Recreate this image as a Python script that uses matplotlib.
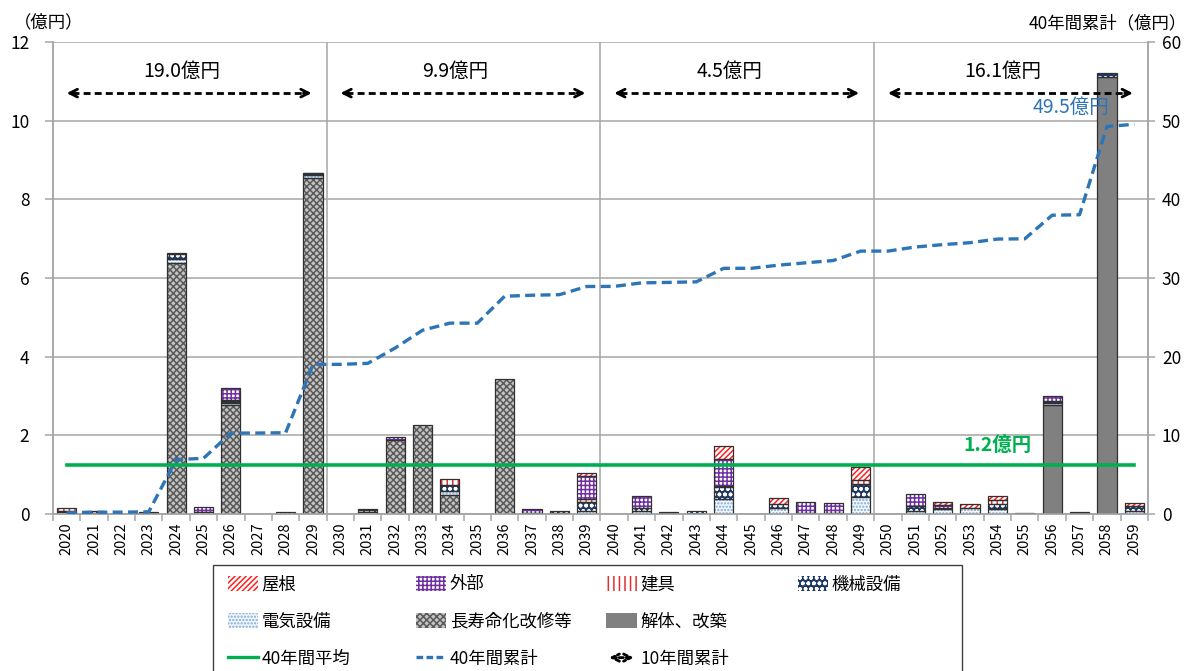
import matplotlib
matplotlib.use("Agg")
import matplotlib.pyplot as plt
import numpy as np
from matplotlib.patches import Patch, FancyArrowPatch, Rectangle
from matplotlib.lines import Line2D
from matplotlib.legend_handler import HandlerBase

plt.rcParams['font.family'] = ['Noto Sans CJK JP', 'DejaVu Sans']
plt.rcParams['hatch.linewidth'] = 1.1

# data (億円)
years = [str(y) for y in range(2020, 2060)]
yane = [0, 0, 0, 0, 0, 0, 0, 0, 0, 0,
        0, 0, 0, 0, 0, 0, 0, 0, 0, 0.08,
        0, 0, 0, 0, 0.32, 0, 0.15, 0, 0, 0.33,
        0, 0, 0.08, 0.11, 0.10, 0, 0, 0, 0, 0.08]
gaibu = [0, 0, 0, 0, 0.03, 0.13, 0.30, 0.01, 0.04, 0.02,
         0, 0.03, 0.08, 0, 0, 0, 0, 0.10, 0, 0.57,
         0, 0.29, 0, 0, 0.69, 0, 0, 0.27, 0.26, 0,
         0, 0.32, 0.07, 0, 0, 0, 0.14, 0, 0, 0]
tategu = [0.07, 0, 0, 0, 0, 0.04, 0.03, 0, 0, 0,
          0, 0, 0, 0, 0.16, 0, 0, 0, 0, 0.08,
          0, 0, 0, 0, 0.02, 0, 0, 0, 0, 0.12,
          0, 0, 0, 0, 0.10, 0, 0, 0, 0, 0]
kikai = [0.02, 0.05, 0, 0.03, 0.12, 0, 0.04, 0, 0, 0.03,
         0, 0.06, 0, 0, 0.16, 0, 0, 0, 0.04, 0.23,
         0, 0.08, 0.06, 0.07, 0.32, 0, 0.11, 0, 0, 0.31,
         0, 0.12, 0.03, 0, 0.14, 0, 0.04, 0.06, 0.10, 0.12]
denki = [0.06, 0.03, 0, 0.02, 0.10, 0, 0.05, 0, 0, 0.08,
         0.01, 0.04, 0, 0, 0.10, 0, 0, 0.03, 0.03, 0.08,
         0.01, 0.08, 0, 0, 0.37, 0, 0.14, 0.03, 0.03, 0.44,
         0, 0.08, 0.12, 0.14, 0.12, 0.03, 0.05, 0, 0, 0.08]
choju = [0, 0, 0, 0, 6.38, 0, 2.78, 0, 0, 8.55,
         0, 0, 1.87, 2.26, 0.48, 0, 3.42, 0, 0, 0,
         0, 0, 0, 0, 0, 0, 0, 0, 0, 0,
         0, 0, 0, 0, 0, 0, 0, 0, 0, 0]
kaitai = [0, 0, 0, 0, 0, 0, 0, 0, 0, 0,
          0, 0, 0, 0, 0, 0, 0, 0, 0, 0,
          0, 0, 0, 0, 0, 0, 0, 0, 0, 0,
          0, 0, 0, 0, 0, 0, 2.77, 0, 11.12, 0]
decade_labels = ["19.0億円", "9.9億円", "4.5億円", "16.1億円"]
avg_label = "1.2億円"
total_label = "49.5億円"

# series: label, values, face, hatch colour, hatch   (bottom -> top)
series = [
    ("解体、改築", kaitai, "#808080", "#808080", None),
    ("長寿命化改修等", choju, "#c4c4c4", "#5a5a5a", "xxxxx"),
    ("電気設備", denki, "#f2f8fd", "#7fa9d6", "....."),
    ("機械設備", kikai, "#1f3864", "#ffffff", "ooo"),
    ("建具", tategu, "#ffffff", "#e03030", "|||"),
    ("外部", gaibu, "#ffffff", "#7030a0", "++++"),
    ("屋根", yane, "#ffffff", "#ff2020", "//////"),
]


class ArrowHandler(HandlerBase):
    def create_artists(self, legend, orig, xd, yd, w, h, fontsize, trans):
        y = -yd + h / 2
        a = FancyArrowPatch((-xd, y), (-xd + w, y), arrowstyle="<->",
                            mutation_scale=13, lw=2, color="k",
                            linestyle=(0, (1.5, 1)), transform=trans)
        return [a]


fig = plt.figure(figsize=(11.9, 6.71), dpi=100)
ax = fig.add_axes([0.0445, 0.234, 0.9202, 0.7034])
ax2 = ax.twinx()

x = np.arange(len(years))
w = 0.7
bottom = np.zeros(len(years))
handles = {}
for lab, vals, fc, hc, h in series:
    v = np.array(vals)
    nz = v > 0
    ax.bar(x[nz], v[nz], w, bottom=bottom[nz], facecolor=fc, edgecolor=hc,
           hatch=h, linewidth=0, zorder=3)
    ax.bar(x[nz], v[nz], w, bottom=bottom[nz], fill=False,
           edgecolor="#303030", linewidth=0.9, zorder=4)
    handles[lab] = Patch(facecolor=fc, edgecolor=hc, hatch=h, linewidth=0)
    bottom = bottom + v

totals = bottom
cum = np.cumsum(totals)
avg = cum[-1] / len(years)

# 40年間平均
ax.plot([x[0], x[-1]], [avg, avg], color="#00b050", lw=2.6, zorder=5)
ax.text(34, avg + 0.5, avg_label, color="#00b050", fontsize=14,
        fontweight="bold", ha="center", va="center", zorder=6)

# 40年間累計
ax2.plot(x, cum, color="#2e75b6", lw=2.4, ls=(0, (3, 1.6)), zorder=5)
ax2.text(38.1, 10.33 * 5, total_label, color="#2e75b6", fontsize=14,
         ha="right", va="center", zorder=6)

# 10年間累計
for k, lab in enumerate(decade_labels):
    x0 = 10 * k
    x1 = x0 + 8.95
    ay = 10.7
    ax.plot([x0 + 0.2, x1 - 0.2], [ay, ay], color="k", lw=2, ls=(0, (2.5, 1.5)), zorder=6)
    for xa, xb in [(x0 + 0.3, x0), (x1 - 0.3, x1)]:
        ax.annotate("", xy=(xb, ay), xytext=(xa, ay),
                    arrowprops=dict(arrowstyle="->", lw=2, color="k",
                                    mutation_scale=14, shrinkA=0, shrinkB=0),
                    zorder=6)
    ax.text(x0 + 4.2, 11.25, lab, fontsize=14, ha="center", va="center", zorder=6)

# decade separators
for xs in [9.5, 19.5, 29.5]:
    ax.axvline(xs, color="#a6a6a6", lw=1.1, zorder=1)

ax.set_xlim(-0.5, len(years) - 0.5)
ax.set_ylim(0, 12)
ax2.set_ylim(0, 60)
ax.set_yticks(np.arange(0, 13, 2))
ax2.set_yticks(np.arange(0, 61, 10))
ax.yaxis.grid(True, color="#a6a6a6", lw=1.1, zorder=0)
ax.set_axisbelow(True)
ax.set_xticks(x)
ax.set_xticklabels(years, rotation=90, fontsize=10.5)
ax.set_xticks(np.arange(-0.5, len(years), 1), minor=True)
ax.tick_params(axis="x", which="major", length=0, pad=6)
ax.tick_params(axis="x", which="minor", length=5, color="#a6a6a6", width=1.1)
ax.tick_params(axis="y", labelsize=12.5, length=6, color="#a6a6a6", width=1.1, pad=11)
ax2.tick_params(axis="y", labelsize=12.5, length=5, color="#a6a6a6", width=1.1, pad=5)
for a in (ax, ax2):
    for s in a.spines.values():
        s.set_color("#a6a6a6")
        s.set_linewidth(1.1)
    a.spines["top"].set_visible(False)

fig.text(0.012, 0.967, "（億円）", fontsize=12.5, ha="left", va="center")
fig.text(0.997, 0.965, "40年間累計（億円）", fontsize=12.5, ha="right", va="center")

# legend: one legend per column inside a single frame
arrow = Line2D([], [])
columns = [
    [(handles["屋根"], "屋根"), (handles["電気設備"], "電気設備"),
     (Line2D([], [], color="#00b050", lw=2.4), "40年間平均")],
    [(handles["外部"], "外部"), (handles["長寿命化改修等"], "長寿命化改修等"),
     (Line2D([], [], color="#2e75b6", lw=2.4, ls=(0, (2, 1))), "40年間累計")],
    [(handles["建具"], "建具"), (handles["解体、改築"], "解体、改築"),
     (arrow, "10年間累計")],
    [(handles["機械設備"], "機械設備")],
]
col_x = [0.1915, 0.3495, 0.5095, 0.6705]
for cx, col in zip(col_x, columns):
    lg = fig.legend([c[0] for c in col], [c[1] for c in col],
                    loc="upper left", bbox_to_anchor=(cx, 0.1425),
                    fontsize=12.5, frameon=False, borderpad=0,
                    borderaxespad=0, handlelength=1.75, handleheight=0.95,
                    handletextpad=0.2, labelspacing=1.1,
                    handler_map={arrow: ArrowHandler()})
fig.patches.append(Rectangle((0.179, -0.01), 0.629, 0.168, transform=fig.transFigure,
                             fill=False, edgecolor="#404040", lw=1.0))

fig.savefig("out.png", dpi=100)
